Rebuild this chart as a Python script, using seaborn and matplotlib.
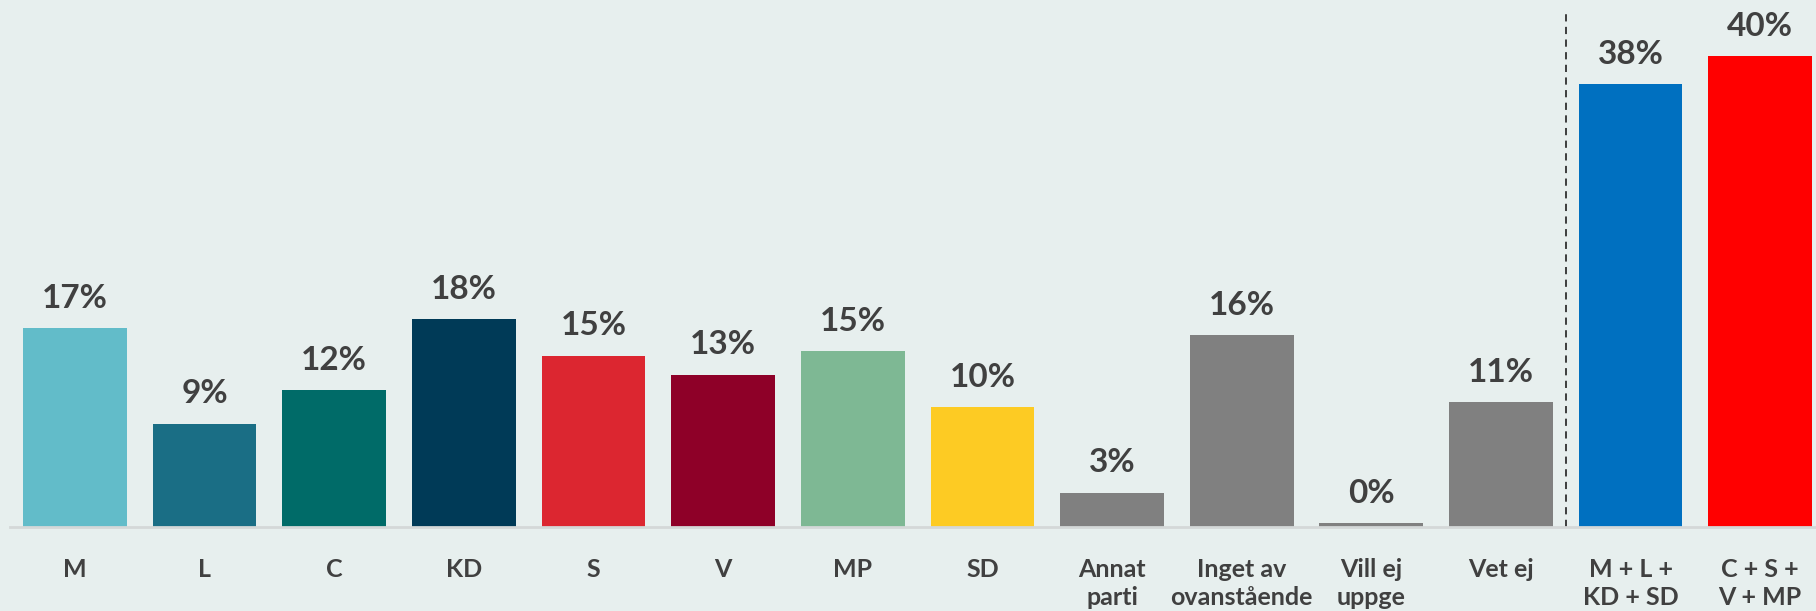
import matplotlib.pyplot as plt
import seaborn as sns
import pandas as pd

# --- DATA ---
CATEGORIES = ['M', 'L', 'C', 'KD', 'S', 'V', 'MP', 'SD',
              'Annat\nparti', 'Inget av\novanstående', 'Vill ej\nuppge', 'Vet ej',
              'M + L +\nKD + SD', 'C + S +\nV + MP']
VALUES = [16.7, 8.7, 11.5, 17.5, 14.4, 12.8, 14.8, 10.1,
          2.9, 16.1, 0.3, 10.5, 37.2, 39.6]
LABELS = ['17%', '9%', '12%', '18%', '15%', '13%', '15%', '10%',
          '3%', '16%', '0%', '11%', '38%', '40%']
COLORS = ['#62BCC9', '#1A6E85', '#006B68', '#003A57', '#DC2630', '#8E0028',
          '#7EB894', '#FDCB23', '#808080', '#808080', '#808080', '#808080',
          '#0070C0', '#FF0000']

BG = '#E7EFEE'
TEXT = '#404040'

sns.set_theme(style='white')
plt.rcParams['font.family'] = ['Lato', 'DejaVu Sans']

df = pd.DataFrame({'cat': CATEGORIES, 'val': VALUES})

fig = plt.figure(figsize=(18.16, 6.11), dpi=100)
fig.patch.set_facecolor(BG)
ax = fig.add_axes([10 / 1816, 84 / 611, 1806 / 1816, 527 / 611])
ax.set_facecolor(BG)

sns.barplot(data=df, x='cat', y='val', hue='cat', palette=COLORS,
            width=0.8, saturation=1, legend=False, linewidth=0, ax=ax)

for cont, lab in zip(ax.containers, LABELS):
    ax.bar_label(cont, labels=[lab], padding=11, fontsize=24,
                 fontweight='bold', color=TEXT)

# divider between single parties and blocs
ax.plot([11.5, 11.5], [0, 43.3], ls=(0, (4, 3)), color='#303030', lw=1.3)

ax.set_xlim(-0.5, 13.43)
ax.set_ylim(0, 44.3)
ax.set_xlabel('')
ax.set_ylabel('')
ax.set_yticks([])
ax.tick_params(axis='x', length=0, pad=22)
for t in ax.get_xticklabels():
    t.set_fontsize(18)
    t.set_fontweight('bold')
    t.set_color(TEXT)
    t.set_verticalalignment('top')
    t.set_linespacing(1.3)

for s in ['top', 'right', 'left']:
    ax.spines[s].set_visible(False)
ax.spines['bottom'].set_color('#D4D8D8')
ax.spines['bottom'].set_linewidth(2)

fig.savefig('out.png', dpi=100, facecolor=BG)
